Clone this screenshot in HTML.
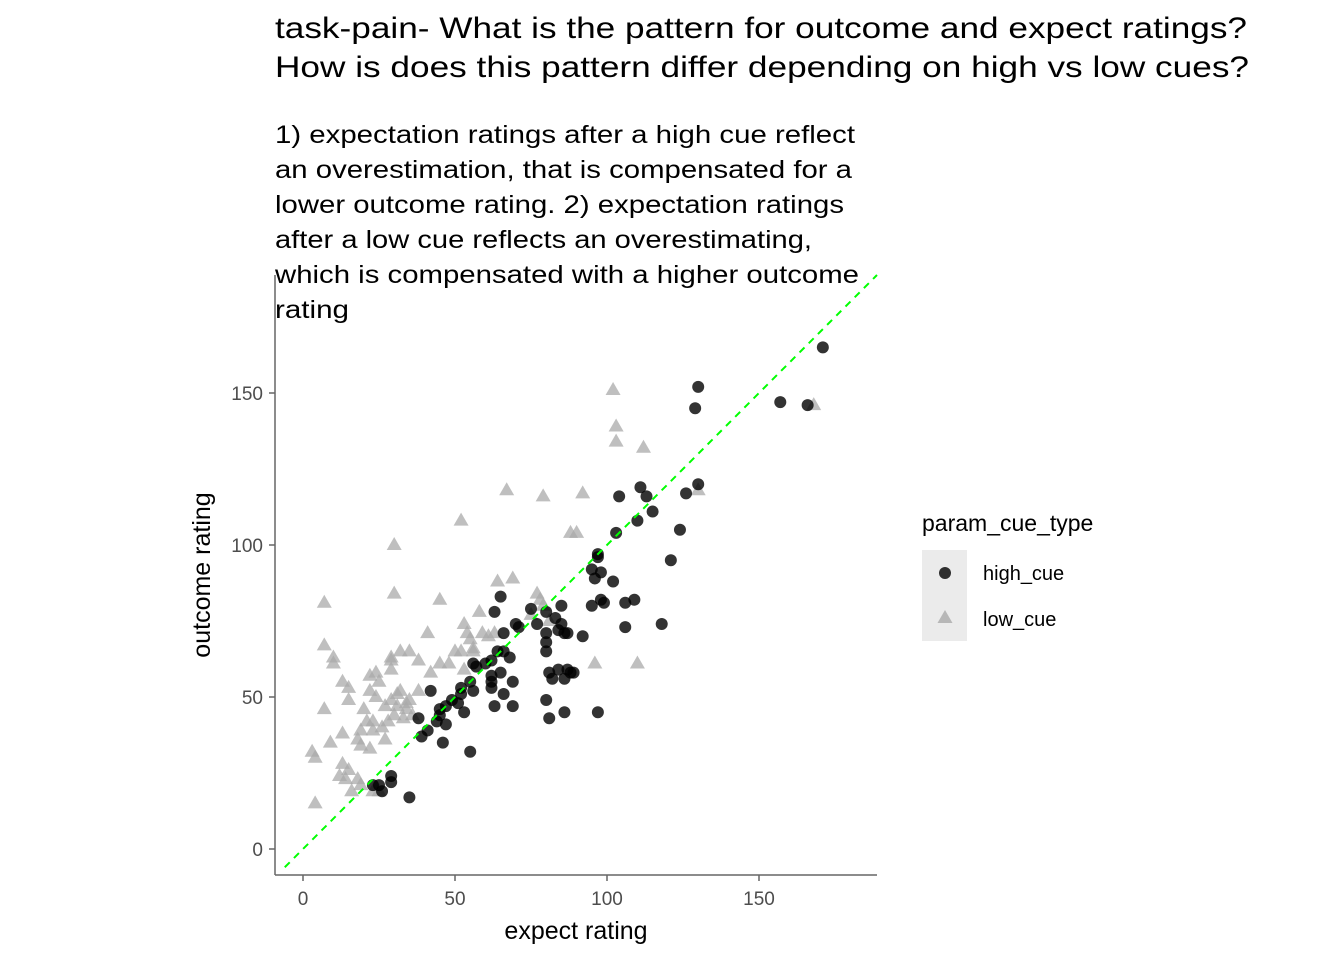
<!DOCTYPE html>
<html><head><meta charset="utf-8"><style>
html,body{margin:0;padding:0;background:#fff;}
svg{display:block;font-family:"Liberation Sans",Arial,sans-serif;}
</style></head><body>
<svg id="chart" width="1344" height="960" viewBox="0 0 1344 960" xmlns="http://www.w3.org/2000/svg">
<g font-size="30" fill="#000">
<text x="275" y="38" textLength="972" lengthAdjust="spacingAndGlyphs">task-pain- What is the pattern for outcome and expect ratings?</text>
<text x="275" y="77" textLength="974" lengthAdjust="spacingAndGlyphs">How is does this pattern differ depending on high vs low cues?</text>
</g>
<g font-size="25" fill="#000">
<text x="275" y="143" textLength="580" lengthAdjust="spacingAndGlyphs">1) expectation ratings after a high cue reflect</text>
<text x="275" y="178" textLength="577" lengthAdjust="spacingAndGlyphs">an overestimation, that is compensated for a</text>
<text x="275" y="213" textLength="569" lengthAdjust="spacingAndGlyphs">lower outcome rating. 2) expectation ratings</text>
<text x="275" y="248" textLength="537" lengthAdjust="spacingAndGlyphs">after a low cue reflects an overestimating,</text>
<text x="275" y="283" textLength="584" lengthAdjust="spacingAndGlyphs">which is compensated with a higher outcome</text>
<text x="275" y="318" textLength="74" lengthAdjust="spacingAndGlyphs">rating</text>
</g>
<g id="plot"></g>
<text x="576" y="939" font-size="25" text-anchor="middle">expect rating</text>
<text transform="translate(210,575) rotate(-90)" font-size="25" text-anchor="middle">outcome rating</text>
<g>
<text x="922" y="531" font-size="23">param_cue_type</text>
<rect x="922" y="550" width="45" height="91" fill="#ebebeb"/>
<circle cx="945" cy="573" r="6" fill="#000" fill-opacity="0.8"/>
<polygon points="945,610 952.5,623 937.5,623" fill="#aaa" fill-opacity="0.8"/>
<text x="983" y="580" font-size="20">high_cue</text>
<text x="983" y="626" font-size="20">low_cue</text>
</g>
</svg>
<script>
const xTicks=[0,50,100,150];
const yTicks=[0,50,100,150];
const highX=[171,130,129,157,166,130,126,111,113,104,115,110,103,124,121,97,95,97,98,99,95,106,109,106,118,102,85,80,83,85,75,77,71,65,63,66,70,80,84,80,80,86,87,92,66,68,64,62,57,56,60,62,69,66,69,63,62,65,62,55,52,49,51,53,47,45,42,38,41,44,47,45,46,39,55,84,81,82,87,88,86,89,80,81,86,97,52,56,29,29,25,26,23,35,98,96];
const highY=[165,152,145,147,146,120,117,119,116,116,111,108,104,105,95,96,92,97,82,81,80,81,82,73,74,88,80,78,76,74,79,74,73,83,78,71,74,68,72,65,71,71,71,70,65,63,65,62,60,61,61,57,55,51,47,47,53,58,55,55,51,49,48,45,47,46,52,43,39,42,41,44,35,37,32,59,58,56,59,58,56,58,49,43,45,45,53,52,24,22,21,19,21,17,91,89];
const lowX=[102,103,103,112,130,168,67,79,92,88,90,52,30,30,7,7,10,10,13,15,7,9,3,4,4,13,15,20,22,24,25,29,32,35,29,29,41,45,53,54,55,56,58,59,61,63,64,69,75,77,78,79,81,96,110,38,42,45,48,50,52,56,53,32,31,29,31,34,35,38,22,24,21,23,23,19,18,19,22,27,26,28,30,33,13,15,18,19,14,12,16,23,25,34,36,27];
const lowY=[151,139,134,132,118,146,118,116,117,104,104,108,100,84,81,67,63,61,55,53,46,35,32,30,15,38,49,46,57,58,55,63,65,65,62,59,71,82,74,71,69,66,78,71,70,71,88,89,77,84,82,80,75,61,61,62,58,61,61,65,65,65,59,52,51,49,47,46,49,52,52,50,42,42,39,39,36,34,33,36,40,42,44,43,28,26,23,21,23,24,19,19,19,48,44,47];
const NS='http://www.w3.org/2000/svg';
const X0=275,X1=877,Y0=275,Y1=875;
const xs=v=>303+v*3.04;
const ys=v=>849-v*3.04;
const plot=document.getElementById('plot');
function mk(t,a,p){const e=document.createElementNS(NS,t);for(const k in a)e.setAttribute(k,a[k]);(p||plot).appendChild(e);return e;}
const gl=mk('g',{});


lowX.forEach((v,i)=>{const cx=xs(v),cy=ys(lowY[i]);
const p=mk('polygon',{points:`${cx},${cy-8} ${cx+7.5},${cy+5} ${cx-7.5},${cy+5}`,fill:'#aaaaaa','fill-opacity':0.75},gl);

});
const gh=mk('g',{});


highX.forEach((v,i)=>{
const c=mk('circle',{cx:xs(v),cy:ys(highY[i]),r:6,fill:'#000','fill-opacity':0.8},gh);

});
const lo=-6,hi=(X1-303)/3.04;
const dl=mk('line',{x1:xs(lo),y1:ys(lo),x2:xs(hi),y2:ys(hi),stroke:'#00ff00','stroke-width':2,'stroke-dasharray':'7,6'});


const ax=mk('line',{x1:X0,y1:Y1,x2:X1,y2:Y1,stroke:'#666','stroke-width':1.5});


const ay=mk('line',{x1:X0,y1:Y0,x2:X0,y2:Y1,stroke:'#666','stroke-width':1.5});


xTicks.forEach(t=>{
const tk=mk('line',{x1:xs(t),y1:Y1,x2:xs(t),y2:Y1+6,stroke:'#666','stroke-width':1.5});


const tl=mk('text',{x:xs(t),y:Y1+30,'font-size':19,fill:'#4d4d4d','text-anchor':'middle'});
tl.textContent=t;

});
yTicks.forEach(t=>{
const tk=mk('line',{x1:X0-6,y1:ys(t),x2:X0,y2:ys(t),stroke:'#666','stroke-width':1.5});


const tl=mk('text',{x:X0-12,y:ys(t)+7,'font-size':19,fill:'#4d4d4d','text-anchor':'end'});
tl.textContent=t;

});
</script>
</body></html>
